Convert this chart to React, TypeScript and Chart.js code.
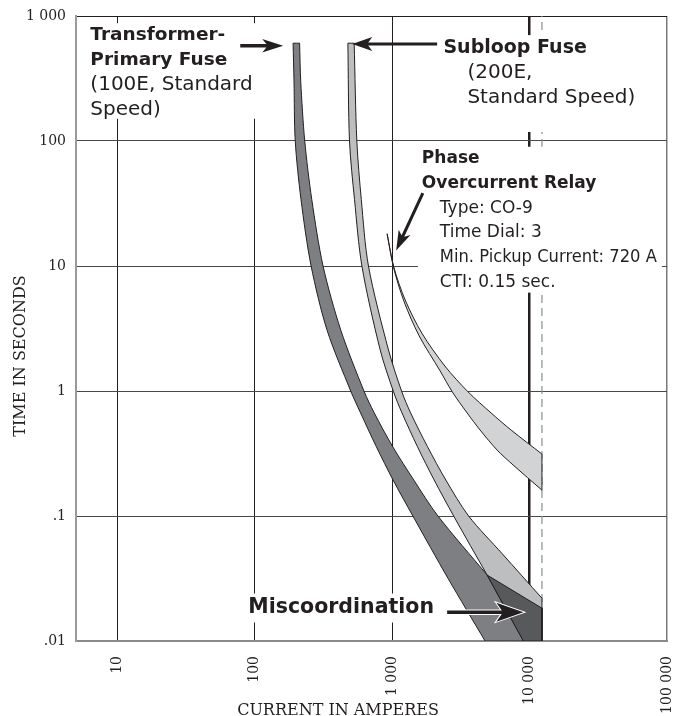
import { useEffect, useRef } from "react";
import { Chart, registerables } from "chart.js";

Chart.register(...registerables);

// ---------- axes ----------
const xTickValues = [10, 100, 1000, 10000, 100000];
const xTickLabels = ["10", "100", "1 000", "10 000", "100 000"];
const yTickValues = [0.01, 0.1, 1, 10, 100, 1000];
const yTickLabels = [".01", ".1", "1", "10", "100", "1 000"];
const xAxisTitle = "CURRENT IN AMPERES";
const yAxisTitle = "TIME IN SECONDS";

// ---------- curves: [current (A), time (s)] ----------
const transformerMinMelt: [number, number][] = [
  [190, 606], [193, 300], [197, 100], [217, 34], [257, 10], [336, 3.06], [499, 1],
  [589, 0.667], [767, 0.358], [1015, 0.194], [1414, 0.1], [2553, 0.0316], [4742, 0.01],
];
const transformerTotalClear: [number, number][] = [
  [212, 606], [216, 300], [231, 100], [260, 34], [314, 10], [423, 3.06], [623, 1],
  [741, 0.667], [1010, 0.358], [1436, 0.194], [2153, 0.1], [4909, 0.0337], [12300, 0.0183],
];
const subloopMinMelt: [number, number][] = [
  [476, 606], [489, 100], [532, 34], [602, 10], [818, 2.13], [1022, 0.987], [1179, 0.667],
  [1528, 0.358], [2021, 0.194], [2801, 0.1], [4909, 0.0337], [9016, 0.01],
];
const subloopTotalClear: [number, number][] = [
  [529, 606], [553, 100], [596, 34], [672, 10], [940, 2.13], [1175, 0.987], [1363, 0.667],
  [1809, 0.358], [2457, 0.194], [3601, 0.1], [6310, 0.05], [12300, 0.022],
];
const relayOperatingTime: [number, number][] = [
  [919, 18.1], [1027, 9.84], [1243, 5.35], [1642, 2.91], [2417, 1.585], [3558, 0.987],
  [5248, 0.667], [7337, 0.487], [12300, 0.313],
];
const relayTimeMinusCti: [number, number][] = [
  [919, 17.95], [1025, 9.66], [1223, 5.16], [1572, 2.76], [2234, 1.446], [2733, 0.987],
  [3512, 0.667], [4365, 0.487], [5802, 0.337], [7586, 0.256], [12300, 0.161],
];
const maxFaultCurrent = 12300;
const miscoordinationCrossing = 4909; // current where transformer total clear meets subloop min melt

// ---------- annotation texts ----------
const transformerLabel = ["Transformer-", "Primary Fuse", "(100E, Standard", "Speed)"];
const subloopLabel = ["Subloop Fuse", "(200E,", "Standard Speed)"];
const relayLabel = [
  "Phase",
  "Overcurrent Relay",
  "Type: CO-9",
  "Time Dial: 3",
  "Min. Pickup Current: 720 A",
  "CTI: 0.15 sec.",
];
const miscoordinationLabel = ["Miscoordination"];

// ---------- build polygons from the curves ----------
type P = { x: number; y: number };
const toP = ([x, y]: [number, number]): P => ({ x, y });
const bottomTime = yTickValues[0];

// duplicated vertices make sharp corners when the line uses tension
function withCorners(pts: P[], kinkCurrent?: number): P[] {
  const out: P[] = [];
  pts.forEach((p, i) => {
    out.push(p);
    if (i === 0 || i === pts.length - 1 || p.x === kinkCurrent) out.push(p);
  });
  return out;
}

function fuseBand(minMelt: [number, number][], totalClear: [number, number][]): P[] {
  const left = withCorners(minMelt.map(toP), miscoordinationCrossing);
  const right = withCorners(totalClear.map(toP), miscoordinationCrossing).reverse();
  const corner = { x: maxFaultCurrent, y: bottomTime };
  return [...left, corner, corner, ...right, left[0]];
}
function relayBand(upper: [number, number][], lower: [number, number][]): P[] {
  const u = withCorners(upper.map(toP));
  return [...u, ...withCorners(lower.map(toP)).reverse(), u[0]];
}
function overlapRegion(): P[] {
  const top = transformerTotalClear.filter(([c]) => c >= miscoordinationCrossing).map(toP);
  const left = subloopMinMelt.filter(([c]) => c >= miscoordinationCrossing).map(toP).reverse();
  return [...top, { x: maxFaultCurrent, y: bottomTime }, ...left];
}

const FONT_SANS = '"DejaVu Sans"';
const FONT_SERIF = '"DejaVu Serif"';
const INK = "#231f20";

type LineStyle = { bold: boolean; size: number; indent: number; maxWidth?: number };
type Block = {
  lines: string[];
  at: [number, number];
  lineHeight: number;
  styles: LineStyle[];
  pad: [number, number, number, number];
};

const textBlocks: Block[] = [
  {
    lines: transformerLabel,
    at: [6.36, 646],
    lineHeight: 25,
    styles: [
      { bold: true, size: 18.5, indent: 0 },
      { bold: true, size: 18.5, indent: 0 },
      { bold: false, size: 20, indent: 0 },
      { bold: false, size: 20, indent: 0 },
    ],
    pad: [3, 6, 4, 5],
  },
  {
    lines: subloopLabel,
    at: [2360, 506],
    lineHeight: 25,
    styles: [
      { bold: true, size: 19, indent: 0 },
      { bold: false, size: 20, indent: 24 },
      { bold: false, size: 20, indent: 24 },
    ],
    pad: [4, 22, 29, 6],
  },
  {
    lines: relayLabel,
    at: [1644, 66.5],
    lineHeight: 24.7,
    styles: [
      { bold: true, size: 17, indent: 0 },
      { bold: true, size: 17, indent: 0 },
      { bold: false, size: 17, indent: 18 },
      { bold: false, size: 17, indent: 18 },
      { bold: false, size: 17, indent: 18, maxWidth: 217 },
      { bold: false, size: 17, indent: 18 },
    ],
    pad: [4, 5, 6, 4],
  },
  {
    lines: miscoordinationLabel,
    at: [89.7, 0.0166],
    lineHeight: 0,
    styles: [{ bold: true, size: 20.5, indent: 0 }],
    pad: [5, 4, 9, 4],
  },
];

type Arrow = {
  from: [number, number];
  to: [number, number];
  shaft: number;
  head: number;
  half: number;
  outline?: string;
};
const arrows: Arrow[] = [
  { from: [78.4, 578], to: [161, 578], shaft: 3.5, head: 21, half: 6.7 },
  { from: [2124, 597], to: [512, 597], shaft: 3, head: 20, half: 7 },
  { from: [1671, 38.3], to: [1069, 13.3], shaft: 3, head: 20, half: 6.5 },
  { from: [2512, 0.01702], to: [9016, 0.01702], shaft: 3.5, head: 27, half: 9.5, outline: "#ffffff" },
];

function fontFor(s: LineStyle) {
  return `${s.bold ? "bold " : ""}${s.size}px ${FONT_SANS}`;
}

const annotationPlugin = {
  id: "tccAnnotations",
  afterDatasetsDraw(chart: any) {
    const { ctx } = chart;
    const xs = chart.scales.x;
    const ys = chart.scales.y;
    ctx.save();
    for (const b of textBlocks) {
      const px = xs.getPixelForValue(b.at[0]);
      const py = ys.getPixelForValue(b.at[1]);
      let right = px;
      b.lines.forEach((t, i) => {
        const st = b.styles[i];
        ctx.font = fontFor(st);
        let w = ctx.measureText(t).width;
        if (st.maxWidth) w = Math.min(w, st.maxWidth);
        right = Math.max(right, px + st.indent + w);
      });
      const [pt, pr, pb, pl] = b.pad;
      const top = py - b.styles[0].size * 0.73 - pt;
      const bottom = py + (b.lines.length - 1) * b.lineHeight + pb;
      ctx.fillStyle = "#ffffff";
      ctx.fillRect(px - pl, top, right + pr - (px - pl), bottom - top);
      ctx.fillStyle = INK;
      ctx.textAlign = "left";
      ctx.textBaseline = "alphabetic";
      b.lines.forEach((t, i) => {
        const st = b.styles[i];
        ctx.font = fontFor(st);
        const yy = py + i * b.lineHeight;
        if (st.maxWidth) ctx.fillText(t, px + st.indent, yy, st.maxWidth);
        else ctx.fillText(t, px + st.indent, yy);
      });
    }
    for (const a of arrows) {
      const x1 = xs.getPixelForValue(a.from[0]);
      const y1 = ys.getPixelForValue(a.from[1]);
      const x2 = xs.getPixelForValue(a.to[0]);
      const y2 = ys.getPixelForValue(a.to[1]);
      const len = Math.hypot(x2 - x1, y2 - y1);
      const ang = Math.atan2(y2 - y1, x2 - x1);
      ctx.save();
      ctx.translate(x2, y2);
      ctx.rotate(ang);
      const s = a.shaft / 2;
      const notch = -a.head * 0.8;
      ctx.beginPath();
      ctx.moveTo(-len, -s);
      ctx.lineTo(notch, -s);
      ctx.lineTo(-a.head, -a.half);
      ctx.lineTo(0, 0);
      ctx.lineTo(-a.head, a.half);
      ctx.lineTo(notch, s);
      ctx.lineTo(-len, s);
      ctx.closePath();
      if (a.outline) {
        ctx.strokeStyle = a.outline;
        ctx.lineWidth = 2;
        ctx.lineJoin = "miter";
        ctx.stroke();
      }
      ctx.fillStyle = INK;
      ctx.fill();
      ctx.restore();
    }
    ctx.restore();
  },
  afterDraw(chart: any) {
    const { ctx, chartArea } = chart;
    ctx.save();
    ctx.fillStyle = INK;
    ctx.font = `16px ${FONT_SERIF}`;
    ctx.textAlign = "center";
    ctx.textBaseline = "alphabetic";
    ctx.fillText(xAxisTitle, chart.width / 2, chartArea.bottom + 74);
    ctx.translate(25, chart.height / 2 - 2);
    ctx.rotate(-Math.PI / 2);
    ctx.fillText(yAxisTitle, 0, 0);
    ctx.restore();
  },
};

const baseDs = {
  showLine: true,
  pointRadius: 0,
  pointHoverRadius: 0,
  tension: 0.3,
  borderWidth: 1,
  borderColor: INK,
  borderJoinStyle: "round",
  fill: "shape",
};

export default function App() {
  const ref = useRef<HTMLCanvasElement>(null);
  useEffect(() => {
    document.body.style.margin = "0";
    if (!ref.current) return;
    const chart = new Chart(ref.current, {
      type: "scatter",
      data: {
        datasets: [
          {
            ...baseDs,
            label: "Maximum fault current",
            data: [
              { x: maxFaultCurrent, y: yTickValues[0] },
              { x: maxFaultCurrent, y: yTickValues[yTickValues.length - 1] },
            ],
            borderColor: "#8c8c8c",
            borderDash: [8, 5],
            borderWidth: 1.2,
            tension: 0,
            fill: false,
            order: 10,
          },
          {
            ...baseDs,
            label: "Transformer-Primary Fuse (100E)",
            data: fuseBand(transformerMinMelt, transformerTotalClear),
            backgroundColor: "#7d7f82",
            order: 5,
          },
          {
            ...baseDs,
            label: "Subloop Fuse (200E)",
            data: fuseBand(subloopMinMelt, subloopTotalClear),
            backgroundColor: "#bcbec0",
            order: 4,
          },
          {
            ...baseDs,
            label: "Miscoordination",
            data: overlapRegion(),
            backgroundColor: "#58595b",
            tension: 0,
            order: 3,
          },
          {
            ...baseDs,
            label: "Phase Overcurrent Relay",
            data: relayBand(relayOperatingTime, relayTimeMinusCti),
            backgroundColor: "#d1d3d4",
            order: 2,
          },
        ] as any,
      },
      options: {
        responsive: false,
        animation: false,
        events: [],
        layout: { padding: { top: 16, right: 9, left: 0, bottom: 0 } },
        plugins: {
          legend: { display: false },
          tooltip: { enabled: false },
        },
        scales: {
          x: {
            type: "logarithmic",
            position: "bottom",
            min: 5,
            max: 100000,
            afterBuildTicks: (s: any) => {
              s.ticks = xTickValues.map((v) => ({ value: v }));
            },
            afterFit: (s: any) => {
              s.height = 75;
              s.paddingLeft = 0;
              s.paddingRight = 0;
            },
            ticks: {
              autoSkip: false,
              minRotation: 90,
              maxRotation: 90,
              padding: 15,
              color: INK,
              font: { family: "DejaVu Serif", size: 14 },
              callback: (v: any) => xTickLabels[xTickValues.indexOf(Number(v))] ?? "",
            },
            grid: {
              drawTicks: false,
              color: (c: any) => (c.tick && c.tick.value === 100000 ? "#7a7a7a" : INK),
              lineWidth: (c: any) =>
                c.tick && c.tick.value === 10000 ? 2.5 : c.tick && c.tick.value === 100000 ? 1.5 : 1,
            },
            border: { display: true, color: "#8a8a8a", width: 2 },
          },
          y: {
            type: "logarithmic",
            min: 0.01,
            max: 1000,
            afterBuildTicks: (s: any) => {
              s.ticks = yTickValues.map((v) => ({ value: v }));
            },
            afterFit: (s: any) => {
              s.width = 76;
              s.paddingTop = 0;
              s.paddingBottom = 0;
            },
            ticks: {
              autoSkip: false,
              padding: 10,
              color: INK,
              font: { family: "DejaVu Serif", size: 14 },
              callback: (v: any) => yTickLabels[yTickValues.indexOf(Number(v))] ?? "",
            },
            grid: {
              drawTicks: false,
              color: (c: any) => (c.tick && c.tick.value === 1000 ? INK : "#474747"),
              lineWidth: 1,
            },
            border: { display: true, color: "#9a9a9a", width: 2 },
          },
        },
      },
      plugins: [annotationPlugin],
    } as any);
    return () => chart.destroy();
  }, []);
  return (
    <div style={{ width: 676, height: 716 }}>
      <canvas ref={ref} width={676} height={716} style={{ display: "block" }} />
    </div>
  );
}
